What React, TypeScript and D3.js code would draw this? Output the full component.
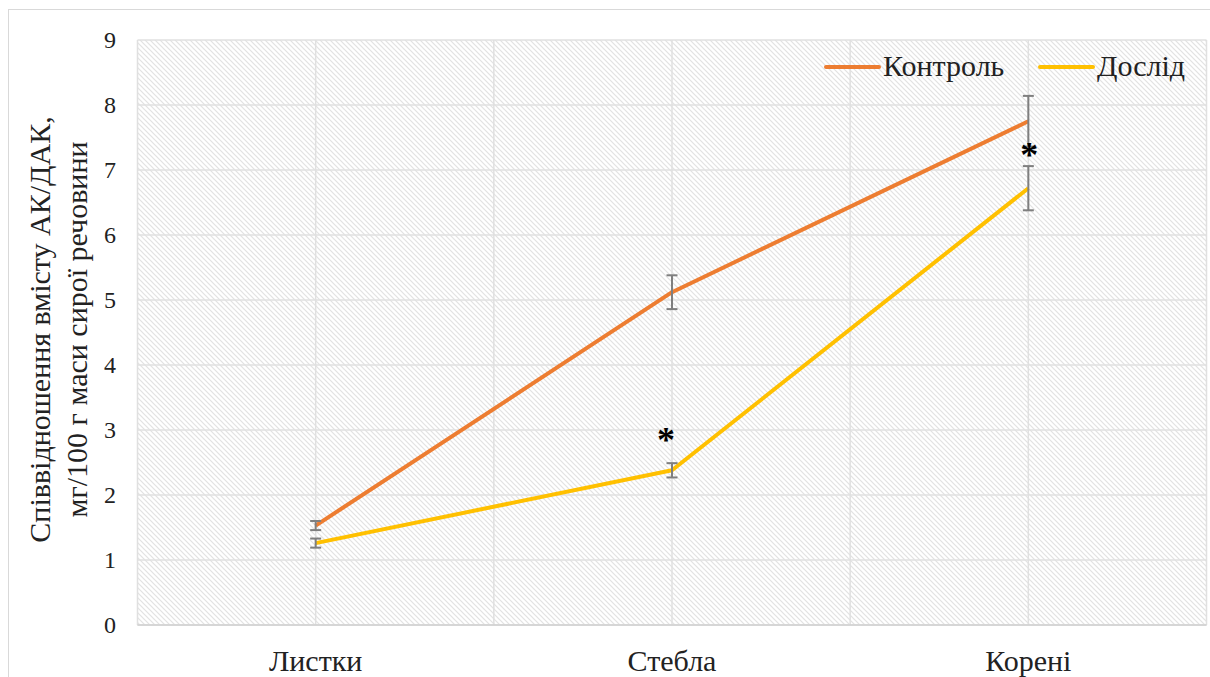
import React from "react";
import * as d3 from "d3";

const categories = ["Листки", "Стебла", "Корені"];
const controlValues = [1.53, 5.12, 7.75];
const controlErrors = [0.07, 0.26, 0.39];
const experimentValues = [1.26, 2.38, 6.72];
const experimentErrors = [0.07, 0.11, 0.34];
const significant = [false, true, true];
const yTicks = [0, 1, 2, 3, 4, 5, 6, 7, 8, 9];
const seriesNames = ["Контроль", "Дослід"];
const seriesColors = ["#ED7D31", "#FFC000"];

const W = 1210;
const H = 677;
const left = 137.5;
const right = 1206.5;
const top = 40;
const bottom = 625;
const FONT = '"Liberation Serif", "Times New Roman", serif';

export default function App() {
  const x = d3.scalePoint<string>().domain(categories).range([left, right]).padding(0.5);
  const step = x.step();
  const y = d3.scaleLinear().domain([0, 9]).range([bottom, top]);
  const line = d3
    .line<number>()
    .x((_, i) => x(categories[i]) as number)
    .y((d) => y(d));

  const vGrid: number[] = [];
  for (let k = 0; k <= categories.length * 2; k++) vGrid.push(left + (k * step) / 2);

  const series = [
    { values: controlValues, errors: controlErrors, color: seriesColors[0] },
    { values: experimentValues, errors: experimentErrors, color: seriesColors[1] },
  ];

  const tf = { fontFamily: FONT };

  return (
    <svg width={W} height={H} style={{ position: "absolute", left: 0, top: 0 }}>
      <defs>
        <pattern id="hatch" width="5" height="5" patternUnits="userSpaceOnUse">
          <rect width="5" height="5" fill="#ffffff" />
          <path d="M-1,-1 L6,6 M-1,4 L1,6 M4,-1 L6,1" stroke="#e2e2e2" strokeWidth="1.2" />
        </pattern>
      </defs>
      <rect x={0} y={0} width={W} height={H} fill="#fff" />
      <rect x={8.5} y={9.5} width={W + 20} height={H + 20} fill="none" stroke="#d9d9d9" strokeWidth={1} />
      <rect x={left} y={top} width={right - left} height={bottom - top} fill="url(#hatch)" />
      {yTicks.map((t) => (
        <line key={"h" + t} x1={left} x2={right} y1={y(t)} y2={y(t)} stroke="#e0e0e0" strokeWidth={1.5} />
      ))}
      {vGrid.map((g, i) => (
        <line key={"v" + i} x1={g} x2={g} y1={top} y2={bottom} stroke="#e0e0e0" strokeWidth={1.5} />
      ))}
      <line x1={left} x2={right} y1={bottom} y2={bottom} stroke="#d0d0d0" strokeWidth={1.5} />

      {yTicks.map((t) => (
        <text key={"yt" + t} x={116} y={y(t)} dy="0.35em" textAnchor="end" style={tf} fontSize={24} fill="#222">
          {t}
        </text>
      ))}
      {categories.map((c) => (
        <text key={"xt" + c} x={x(c) as number} y={671} textAnchor="middle" style={tf} fontSize={30} fill="#222">
          {c}
        </text>
      ))}

      <g transform={`translate(0, ${(top + bottom) / 2 - 3}) rotate(-90)`}>
        <text x={0} y={50} textAnchor="middle" style={tf} fontSize={30} fill="#222">
          Співвідношення вмісту АК/ДАК,
        </text>
        <text x={0} y={87} textAnchor="middle" style={tf} fontSize={30} fill="#222">
          мг/100 г маси сирої речовини
        </text>
      </g>

      {series.map((s, si) => (
        <path key={"l" + si} d={line(s.values) || ""} fill="none" stroke={s.color} strokeWidth={4} strokeLinejoin="round" />
      ))}
      {series.map((s, si) =>
        s.values.map((v, i) => {
          const cx = x(categories[i]) as number;
          const y1 = y(v + s.errors[i]);
          const y2 = y(v - s.errors[i]);
          return (
            <g key={"e" + si + i} stroke="#7f7f7f" strokeWidth={2}>
              <line x1={cx} x2={cx} y1={y1} y2={y2} />
              <line x1={cx - 5.5} x2={cx + 5.5} y1={y1} y2={y1} />
              <line x1={cx - 5.5} x2={cx + 5.5} y1={y2} y2={y2} />
            </g>
          );
        })
      )}
      {significant.map((sig, i) =>
        sig ? (
          <text
            key={"s" + i}
            x={(x(categories[i]) as number) + (i === 1 ? -6 : 1)}
            y={i === 1 ? y(experimentValues[i]) - 18 : y(controlValues[i] - controlErrors[i]) + 20}
            textAnchor="middle"
            style={tf}
            fontSize={36}
            fontWeight="bold"
            fill="#000"
          >
            *
          </text>
        ) : null
      )}

      {seriesNames.map((n, i) => {
        const lx = i === 0 ? 826 : 1040;
        return (
          <g key={"lg" + i}>
            <line x1={lx} x2={lx + 53} y1={67} y2={67} stroke={seriesColors[i]} strokeWidth={4} strokeLinecap="round" />
            <text x={lx + 57} y={76} style={tf} fontSize={30} fill="#222">
              {n}
            </text>
          </g>
        );
      })}
    </svg>
  );
}
